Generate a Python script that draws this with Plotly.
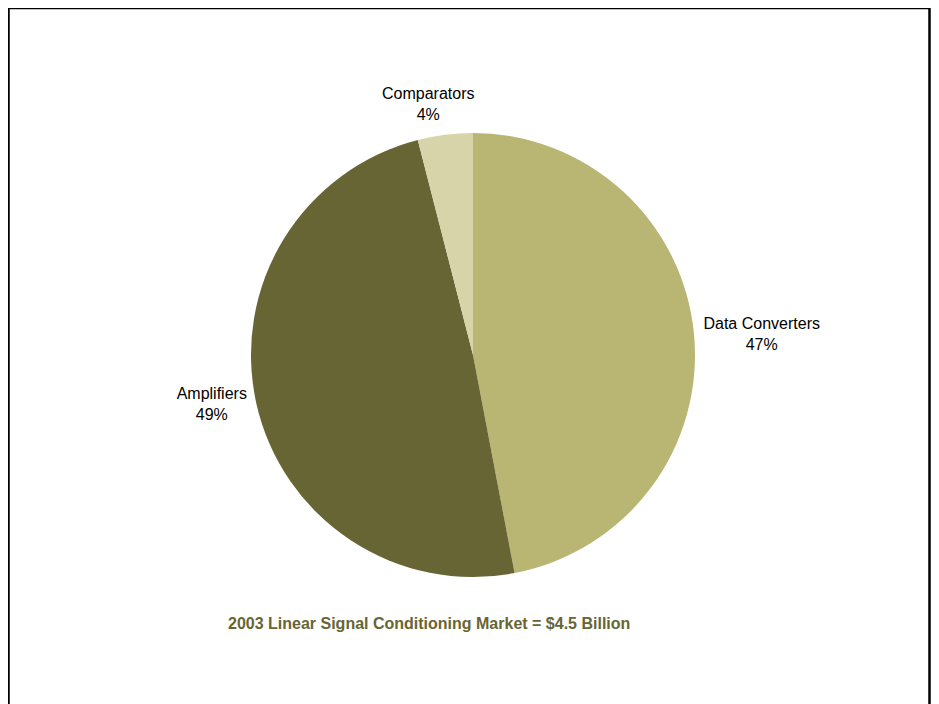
import plotly.graph_objects as go

categories = ["Data Converters", "Amplifiers", "Comparators"]
shares = [47, 49, 4]
colors = ["#B9B673", "#676534", "#D7D4A9"]
title_text = "2003 Linear Signal Conditioning Market = $4.5 Billion"

W, H = 923, 704
OFF = 8  # page offset of the figure in the browser
L, T = 243, 125
pw = ph = 444
R = W - L - pw
B = H - T - ph

def px_x(s):
    return (s - OFF - L) / pw

def px_y(s):
    return (H - B - (s - OFF)) / ph

FONT = "Liberation Sans, Arial, sans-serif"
total = sum(shares)

fig = go.Figure(go.Pie(
    labels=categories,
    values=shares,
    sort=False,
    direction="clockwise",
    rotation=0,
    marker=dict(colors=colors, line=dict(width=0)),
    textposition=["outside", "outside", "none"],
    texttemplate="%{label}<br>%{percent:.0%}",
    textfont=dict(family=FONT, size=16, color="black"),
    showlegend=False,
    hoverinfo="label+percent",
))

# label for the small slice, placed above it
fig.add_annotation(text=f"{categories[2]}<br>{round(100 * shares[2] / total)}%",
                   xref="paper", yref="paper", x=px_x(428), y=px_y(104),
                   xanchor="center", yanchor="middle", showarrow=False,
                   font=dict(family=FONT, size=16, color="black"))

fig.add_shape(type="rect", xref="paper", yref="paper",
              x0=px_x(8.5), x1=px_x(929.5), y0=px_y(740), y1=px_y(8),
              line=dict(color="black", width=2.5), fillcolor="rgba(0,0,0,0)")

fig.add_annotation(text="<b>" + title_text + "</b>", xref="paper", yref="paper",
                   x=px_x(429), y=px_y(634), showarrow=False,
                   font=dict(family=FONT, size=16, color="#676534"))

fig.update_layout(
    width=W, height=H,
    margin=dict(l=L, r=R, t=T, b=B),
    paper_bgcolor="white", plot_bgcolor="white",
)

fig.write_html("out.html")
